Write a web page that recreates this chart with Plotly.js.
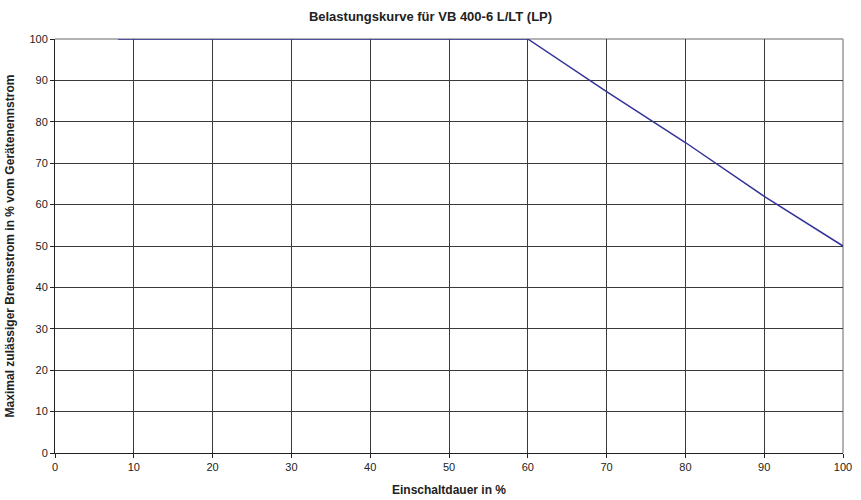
<!DOCTYPE html>
<html>
<head>
<meta charset="utf-8">
<script src="https://cdn.plot.ly/plotly-3.0.1.min.js"></script>
<style>html,body{margin:0;padding:0;background:#fff;}#chart{width:861px;height:500px;}</style>
</head>
<body>
<div id="chart"></div>
<script>
var einschaltdauer = [8, 60, 70, 80, 90, 100];
var bremsstrom = [100, 100, 87.3, 75, 62, 50];
var xTicks = [0, 10, 20, 30, 40, 50, 60, 70, 80, 90, 100];
var yTicks = [0, 10, 20, 30, 40, 50, 60, 70, 80, 90, 100];

var trace = {
  x: einschaltdauer,
  y: bremsstrom,
  type: 'scatter',
  mode: 'lines',
  line: {color: '#333399', width: 1.5},
  hoverinfo: 'x+y'
};

var fam = 'Liberation Sans, Arial, sans-serif';
var font = {family: fam, size: 11, color: '#222'};

var layout = {
  width: 861, height: 500,
  margin: {l: 55, r: 18, t: 39, b: 47},
  paper_bgcolor: '#fff', plot_bgcolor: '#fff',
  showlegend: false,
  font: font,
  title: {
    text: '<b>Belastungskurve für VB 400-6 L/LT (LP)</b>',
    font: {family: fam, size: 13, color: '#222'},
    x: 0.5, xanchor: 'center', y: 0.968, yanchor: 'middle'
  },
  xaxis: {
    range: [0, 100], tickvals: xTicks, ticktext: xTicks.map(String),
    showgrid: true, gridcolor: '#3a3a3a', gridwidth: 1,
    zeroline: false, showline: true, linecolor: '#222', linewidth: 1,
    ticks: 'outside', ticklen: 4, tickcolor: '#222',
    tickfont: font,
    title: {text: '<b>Einschaltdauer in %</b>', font: {family: fam, size: 12, color: '#222'}, standoff: 13}
  },
  yaxis: {
    range: [0, 100], tickvals: yTicks, ticktext: yTicks.map(String),
    showgrid: true, gridcolor: '#3a3a3a', gridwidth: 1,
    zeroline: false, showline: true, linecolor: '#222', linewidth: 1,
    ticks: 'outside', ticklen: 4, tickcolor: '#222',
    tickfont: font,
    title: {text: '<b>Maximal zulässiger Bremsstrom in % vom Gerätenennstrom</b>', font: {family: fam, size: 12, color: '#222'}, standoff: 12}
  },
  shapes: [
    {type: 'line', xref: 'paper', yref: 'paper', x0: 0, x1: 1, y0: 1, y1: 1, line: {color: '#999', width: 1.5}, layer: 'below'},
    {type: 'line', xref: 'paper', yref: 'paper', x0: 1, x1: 1, y0: 0, y1: 1, line: {color: '#999', width: 1.5}, layer: 'below'}
  ]
};

Plotly.newPlot('chart', [trace], layout, {displayModeBar: false, staticPlot: true});
</script>
</body>
</html>
